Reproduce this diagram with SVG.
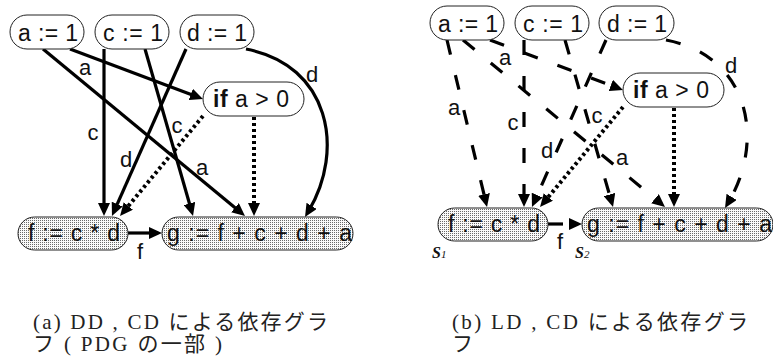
<svg xmlns="http://www.w3.org/2000/svg" width="773" height="364" viewBox="0 0 773 364">
<defs>
<pattern id="stip" width="2" height="2" patternUnits="userSpaceOnUse">
<rect width="2" height="2" fill="#fafafa"/>
<rect width="1" height="1" fill="#6a6a6a"/>
</pattern>
<marker id="ah" markerUnits="userSpaceOnUse" viewBox="0 0 13 12" markerWidth="13" markerHeight="12" refX="6" refY="6" orient="auto">
<path d="M0,0 L13,6 L0,12 z" fill="#000"/>
</marker>
</defs>
<style>
.n rect{fill:#fff;stroke:#222;stroke-width:1}
.n.s rect{fill:url(#stip)}
.n text{font-family:"Liberation Sans",Arial,sans-serif;font-size:23px;fill:#111}
.e{fill:none;stroke:#000;stroke-width:3.2;marker-end:url(#ah)}
.dash{stroke-dasharray:15 21}
.dot{stroke-width:4;stroke-dasharray:3 3}
.lb{font-family:"Liberation Sans",Arial,sans-serif;font-size:22px;fill:#111;text-anchor:middle}
.cap{font-family:"Liberation Serif","Noto Sans CJK JP",serif;font-size:21px;fill:#222}
.sl{font-family:"Liberation Serif",serif;font-weight:bold;font-style:italic;fill:#111}
</style>

<!-- Left panel -->
<g id="left">
<g id="edges-left">
<path class="e" d="M70,49 L196.4,96.5"/>
<path class="e" d="M43,49 L239.6,211.5"/>
<path class="e" d="M104,49 L104,209"/>
<path class="e" d="M145,49 L191.1,209.3"/>
<path class="e" d="M186,49 L114.8,209.6"/>
<path class="e" d="M246,49 C330,65 345,150 308.6,211"/>
<path class="e dot" d="M203,116 L124.5,210.6"/>
<path class="e dot" d="M254,117 L254,209"/>
<path class="e" d="M128,233 L155,233"/>
<text class="lb" x="85" y="75">a</text>
<text class="lb" x="93" y="140">c</text>
<text class="lb" x="177" y="133">c</text>
<text class="lb" x="126" y="167">d</text>
<text class="lb" x="202" y="175">a</text>
<text class="lb" x="312" y="82">d</text>
<text class="lb" x="140" y="259">f</text>
</g>
<g id="L-a" class="n"><rect x="10" y="15" width="74" height="34" rx="17"/><text x="18" y="41" textLength="60" lengthAdjust="spacing">a := 1</text></g>
<g id="L-c" class="n"><rect x="95" y="15" width="74" height="34" rx="17"/><text x="103" y="41" textLength="60" lengthAdjust="spacing">c := 1</text></g>
<g id="L-d" class="n"><rect x="180" y="15" width="74" height="34" rx="17"/><text x="187" y="41" textLength="60" lengthAdjust="spacing">d := 1</text></g>
<g id="L-if" class="n"><rect x="203" y="82" width="101" height="34" rx="17"/><text x="213" y="107" textLength="76" lengthAdjust="spacing"><tspan font-weight="bold">if</tspan> a &gt; 0</text></g>
<g id="L-f" class="n s"><rect x="18" y="217" width="110" height="33" rx="16.5"/><text x="28" y="241" textLength="92" lengthAdjust="spacing">f := c * d</text></g>
<g id="L-g" class="n s"><rect x="162" y="217" width="191" height="33" rx="16.5"/><text x="167" y="241" textLength="185" lengthAdjust="spacing">g := f + c + d + a</text></g>
</g>

<!-- Right panel -->
<g id="right" transform="translate(420,-9)">
<g id="edges-right">
<path class="e dash" d="M27,49 L65.4,209.2"/>
<path class="e dash" d="M70,49 L196.4,96.5"/>
<path class="e dash" d="M43,49 L239.6,211.5"/>
<path class="e dash" d="M104,49 L104,209"/>
<path class="e dash" d="M145,49 L191.1,209.3"/>
<path class="e dash" d="M186,49 L114.8,209.6"/>
<path class="e dash" d="M246,49 C330,65 345,150 308.6,211"/>
<path class="e dot" d="M203,116 L124.5,210.6"/>
<path class="e dot" d="M254,117 L254,209"/>
<path class="e dash" d="M128,233 L155,233"/>
<text class="lb" x="34" y="124">a</text>
<text class="lb" x="85" y="74">a</text>
<text class="lb" x="93" y="139">c</text>
<text class="lb" x="177" y="132">c</text>
<text class="lb" x="127" y="167">d</text>
<text class="lb" x="202" y="174">a</text>
<text class="lb" x="311" y="82">d</text>
<text class="lb" x="140" y="258">f</text>
</g>
<g id="R-a" class="n"><rect x="10" y="15" width="74" height="34" rx="17"/><text x="18" y="41" textLength="60" lengthAdjust="spacing">a := 1</text></g>
<g id="R-c" class="n"><rect x="95" y="15" width="74" height="34" rx="17"/><text x="103" y="41" textLength="60" lengthAdjust="spacing">c := 1</text></g>
<g id="R-d" class="n"><rect x="179" y="15" width="75" height="34" rx="17"/><text x="187" y="41" textLength="60" lengthAdjust="spacing">d := 1</text></g>
<g id="R-if" class="n"><rect x="203" y="82" width="101" height="34" rx="17"/><text x="213" y="107" textLength="76" lengthAdjust="spacing"><tspan font-weight="bold">if</tspan> a &gt; 0</text></g>
<g id="R-f" class="n s"><rect x="18" y="217" width="110" height="33" rx="16.5"/><text x="28" y="241" textLength="92" lengthAdjust="spacing">f := c * d</text></g>
<g id="R-g" class="n s"><rect x="162" y="217" width="191" height="33" rx="16.5"/><text x="167" y="241" textLength="185" lengthAdjust="spacing">g := f + c + d + a</text></g>
</g>

<text class="sl" x="432" y="258" font-size="16">S<tspan font-size="11" font-weight="normal">1</tspan></text>
<text class="sl" x="575" y="258" font-size="16">S<tspan font-size="11" font-weight="normal">2</tspan></text>

<g id="captions">
<text class="cap" x="33" y="329" textLength="295" lengthAdjust="spacing">(a) DD , CD による依存グラ</text>
<text class="cap" x="33" y="351" textLength="189" lengthAdjust="spacing">フ ( PDG の一部 )</text>
<text class="cap" x="452" y="329" textLength="296" lengthAdjust="spacing">(b) LD , CD による依存グラ</text>
<text class="cap" x="452" y="351">フ</text>
</g>
</svg>
